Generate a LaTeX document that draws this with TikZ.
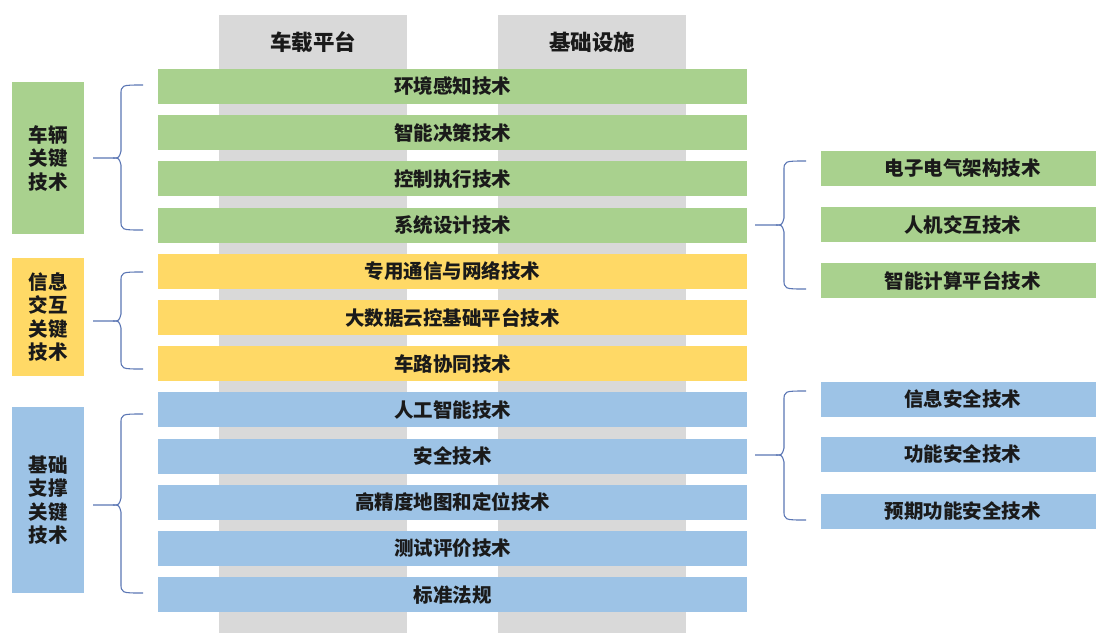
\documentclass[tikz,border=0pt]{standalone}
\usepackage{fontspec}
\setmainfont{Noto Sans CJK SC}
\definecolor{cgreen}{HTML}{A9D18E}
\definecolor{cyellow}{HTML}{FFD966}
\definecolor{cblue}{HTML}{9DC3E6}
\definecolor{cgray}{HTML}{D9D9D9}
\definecolor{cbrace}{HTML}{5B76B4}
\definecolor{ctext}{HTML}{1A1A1A}
\tikzset{
  colbox/.style={fill=cgray, minimum width=188, minimum height=618, inner sep=0},
  head/.style={font=\fontsize{21.5}{24}\selectfont\bfseries, text=ctext},
  bar/.style={minimum width=589, minimum height=35, inner sep=0, font=\fontsize{19.5}{22}\selectfont\bfseries, text=ctext},
  rbox/.style={minimum width=283, minimum height=35, inner sep=0, font=\fontsize{19.5}{22}\selectfont\bfseries, text=ctext},
  lbox/.style={minimum width=72, inner sep=0, align=center, font=\fontsize{19.5}{23.5}\selectfont\bfseries, text=ctext},
  brace/.style={draw=cbrace, line width=1.1pt, line join=round}
}
\begin{document}
\begin{tikzpicture}[x=1pt,y=-1pt]
\useasboundingbox (0,0) rectangle (1096,633);
% gray columns
\node[colbox] (colA) at (313,324) {};
\node[colbox] (colB) at (592,324) {};
\node[head] (hA) at (313,42) {车载平台};
\node[head] (hB) at (592,42) {基础设施};
% bars
\node[bar, fill=cgreen] (b1) at (452.5,86.5) {环境感知技术};
\node[bar, fill=cgreen] (b2) at (452.5,132.7) {智能决策技术};
\node[bar, fill=cgreen] (b3) at (452.5,178.9) {控制执行技术};
\node[bar, fill=cgreen] (b4) at (452.5,225.1) {系统设计技术};
\node[bar, fill=cyellow] (b5) at (452.5,271.3) {专用通信与网络技术};
\node[bar, fill=cyellow] (b6) at (452.5,317.5) {大数据云控基础平台技术};
\node[bar, fill=cyellow] (b7) at (452.5,363.7) {车路协同技术};
\node[bar, fill=cblue] (b8) at (452.5,409.9) {人工智能技术};
\node[bar, fill=cblue] (b9) at (452.5,456.1) {安全技术};
\node[bar, fill=cblue] (b10) at (452.5,502.3) {高精度地图和定位技术};
\node[bar, fill=cblue] (b11) at (452.5,548.5) {测试评价技术};
\node[bar, fill=cblue] (b12) at (452.5,594.7) {标准法规};
% left labels
\node[lbox, fill=cgreen, minimum height=152] (L1) at (48,158) {车辆\\关键\\技术};
\node[lbox, fill=cyellow, minimum height=118] (L2) at (48,317) {信息\\交互\\关键\\技术};
\node[lbox, fill=cblue, minimum height=186] (L3) at (48,500) {基础\\支撑\\关键\\技术};
% right boxes
\node[rbox, fill=cgreen] (r1) at (962.5,168.5) {电子电气架构技术};
\node[rbox, fill=cgreen] (r2) at (962.5,224.5) {人机交互技术};
\node[rbox, fill=cgreen] (r3) at (962.5,280.5) {智能计算平台技术};
\node[rbox, fill=cblue] (r4) at (962.5,399.5) {信息安全技术};
\node[rbox, fill=cblue] (r5) at (962.5,454.5) {功能安全技术};
\node[rbox, fill=cblue] (r6) at (962.5,511.5) {预期功能安全技术};
% braces
\coordinate (t1) at (93,158);
\coordinate (t2) at (93,321);
\coordinate (t3) at (93,505);
\coordinate (t4) at (755,225);
\coordinate (t5) at (755,455);
\foreach \tp/\xz/\xr/\tt/\mm/\bb in {t1/121/143/85/158/230, t2/121/143/272/321/369, t3/121/143/414/505/593, t4/784/806/161/225/289, t5/784/806/391/455/520}{
  \draw[brace] (\tp) -- (\xz-8,\mm) .. controls (\xz-2,\mm) .. (\xz,\mm-7) -- (\xz,\tt+10) .. controls (\xz,\tt) .. (\xr,\tt);
  \draw[brace] (\xz-8,\mm) .. controls (\xz-2,\mm) .. (\xz,\mm+7) -- (\xz,\bb-10) .. controls (\xz,\bb) .. (\xr,\bb);
}
\end{tikzpicture}
\end{document}
